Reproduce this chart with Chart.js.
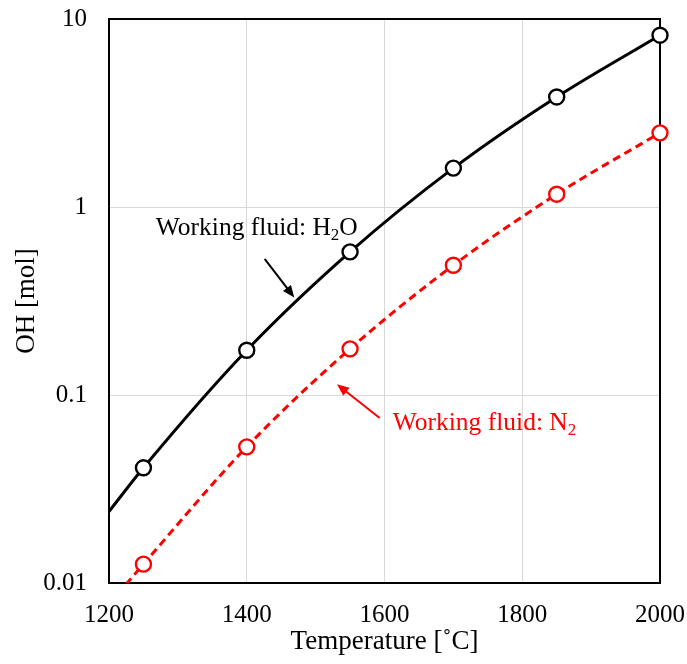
<!doctype html>
<html>

<head>
	<title>OH vs Temperature</title>
	<script src="https://cdn.jsdelivr.net/npm/chart.js@4.4.1/dist/chart.umd.min.js"></script>
	<style>
		html, body {
			margin: 0;
			padding: 0;
			background: #fff;
		}
		#wrap {
			width: 687px;
			height: 664px;
		}
	</style>
</head>

<body>
	<div id="wrap">
		<canvas id="canvas"></canvas>
	</div>
	<script>
		// measured points (markers)
		var temps = [1250, 1400, 1550, 1700, 1850, 2000];
		var ohH2O = [0.041, 0.173, 0.577, 1.61, 3.85, 8.2];
		var ohN2 = [0.0126, 0.053, 0.176, 0.49, 1.17, 2.48];

		// the fitted curves start at the left edge of the plot
		var curveTemps = [1200, 1250, 1400, 1550, 1700, 1850, 2000];
		var curveH2O = [0.024, 0.041, 0.173, 0.577, 1.61, 3.85, 8.2];
		var curveN2 = [0.0077, 0.0126, 0.053, 0.176, 0.49, 1.17, 2.48];

		var xTicks = [1200, 1400, 1600, 1800, 2000];
		var yTicks = [0.01, 0.1, 1, 10];

		var serif = '"Liberation Serif", "Times New Roman", serif';

		function toPoints(xs, ys) {
			return xs.map(function(x, i) {
				return {x: x, y: ys[i]};
			});
		}

		function drawArrow(ctx, x1, y1, x2, y2, color) {
			var ang = Math.atan2(y2 - y1, x2 - x1);
			var head = 12, half = 5;
			ctx.save();
			ctx.strokeStyle = color;
			ctx.fillStyle = color;
			ctx.lineWidth = 2;
			ctx.beginPath();
			ctx.moveTo(x1, y1);
			ctx.lineTo(x2 - Math.cos(ang) * head * 0.8, y2 - Math.sin(ang) * head * 0.8);
			ctx.stroke();
			ctx.beginPath();
			ctx.moveTo(x2, y2);
			ctx.lineTo(x2 - Math.cos(ang) * head + Math.sin(ang) * half, y2 - Math.sin(ang) * head - Math.cos(ang) * half);
			ctx.lineTo(x2 - Math.cos(ang) * head - Math.sin(ang) * half, y2 - Math.sin(ang) * head + Math.cos(ang) * half);
			ctx.closePath();
			ctx.fill();
			ctx.restore();
		}

		function drawLabel(ctx, x, y, parts, color) {
			ctx.save();
			ctx.fillStyle = color;
			ctx.textBaseline = 'alphabetic';
			ctx.textAlign = 'left';
			parts.forEach(function(p) {
				var size = p.sub ? 17 : 25.5;
				ctx.font = size + 'px ' + serif;
				ctx.fillText(p.t, x, p.sub ? y + 5 : y);
				x += ctx.measureText(p.t).width;
			});
			ctx.restore();
		}

		var frameAndNotes = {
			id: 'frameAndNotes',
			beforeDatasetsDraw: function(chart) {
				var a = chart.chartArea, ctx = chart.ctx;
				ctx.save();
				ctx.strokeStyle = '#000';
				ctx.lineWidth = 2;
				ctx.strokeRect(a.left, a.top, a.right - a.left, a.bottom - a.top);
				ctx.restore();
			},
			afterDatasetsDraw: function(chart) {
				var ctx = chart.ctx, xs = chart.scales.x, ys = chart.scales.y;
				function px(t) { return xs.getPixelForValue(t); }
				function py(v) { return ys.getPixelForValue(v); }

				drawLabel(ctx, px(1268), py(0.71), [
					{t: 'Working fluid: H'}, {t: '2', sub: true}, {t: 'O'}
				], '#000');
				drawArrow(ctx, px(1426), py(0.53), px(1469), py(0.33), '#000');

				drawLabel(ctx, px(1612), py(0.065), [
					{t: 'Working fluid: N'}, {t: '2', sub: true}
				], '#ff0000');
				drawArrow(ctx, px(1593), py(0.0755), px(1531), py(0.114), '#ff0000');
			}
		};

		var config = {
			type: 'line',
			data: {
				datasets: [{
					label: 'H2O',
					data: toPoints(temps, ohH2O),
					showLine: false,
					pointRadius: 7.5,
					pointBorderWidth: 2.4,
					pointBackgroundColor: '#fff',
					pointBorderColor: '#000',
					clip: false
				}, {
					label: 'N2',
					data: toPoints(temps, ohN2),
					showLine: false,
					pointRadius: 7.5,
					pointBorderWidth: 2.4,
					pointBackgroundColor: '#fff',
					pointBorderColor: '#ff0000',
					clip: false
				}, {
					label: 'H2O curve',
					data: toPoints(curveTemps, curveH2O),
					borderColor: '#000',
					borderWidth: 3,
					pointRadius: 0,
					cubicInterpolationMode: 'monotone',
					fill: false
				}, {
					label: 'N2 curve',
					data: toPoints(curveTemps, curveN2),
					borderColor: '#ff0000',
					borderWidth: 3,
					borderDash: [8, 5],
					pointRadius: 0,
					cubicInterpolationMode: 'monotone',
					fill: false
				}]
			},
			options: {
				responsive: true,
				maintainAspectRatio: false,
				animation: false,
				layout: {
					autoPadding: false,
					padding: {left: 0, right: 27, top: 19, bottom: 0}
				},
				plugins: {
					legend: {display: false},
					tooltip: {enabled: false}
				},
				scales: {
					x: {
						type: 'linear',
						min: 1200,
						max: 2000,
						afterBuildTicks: function(scale) {
							scale.ticks = xTicks.map(function(v) { return {value: v}; });
						},
						afterFit: function(scale) {
							scale.height = 81;
							scale.paddingLeft = 0;
							scale.paddingRight = 0;
						},
						grid: {color: '#d9d9d9', lineWidth: 1, drawTicks: false},
						border: {display: false},
						ticks: {
							color: '#000',
							padding: 17,
							maxRotation: 0,
							font: {family: serif, size: 25},
							callback: function(v) { return String(v); }
						},
						title: {
							display: true,
							text: 'Temperature [˚C]',
							color: '#000',
							padding: {top: 0, bottom: 6},
							font: {family: serif, size: 27}
						}
					},
					y: {
						type: 'logarithmic',
						min: 0.01,
						max: 10,
						afterBuildTicks: function(scale) {
							scale.ticks = yTicks.map(function(v) { return {value: v}; });
						},
						afterFit: function(scale) {
							scale.width = 109;
							scale.paddingTop = 0;
							scale.paddingBottom = 0;
						},
						grid: {color: '#d9d9d9', lineWidth: 1, drawTicks: false},
						border: {display: false},
						ticks: {
							color: '#000',
							padding: 22,
							font: {family: serif, size: 25},
							callback: function(v) { return String(v); }
						},
						title: {
							display: true,
							text: 'OH [mol]',
							color: '#000',
							padding: {top: 11, bottom: 0},
							font: {family: serif, size: 27}
						}
					}
				}
			},
			plugins: [frameAndNotes]
		};

		window.onload = function() {
			window.myChart = new Chart(document.getElementById('canvas'), config);
		};
	</script>
</body>

</html>
